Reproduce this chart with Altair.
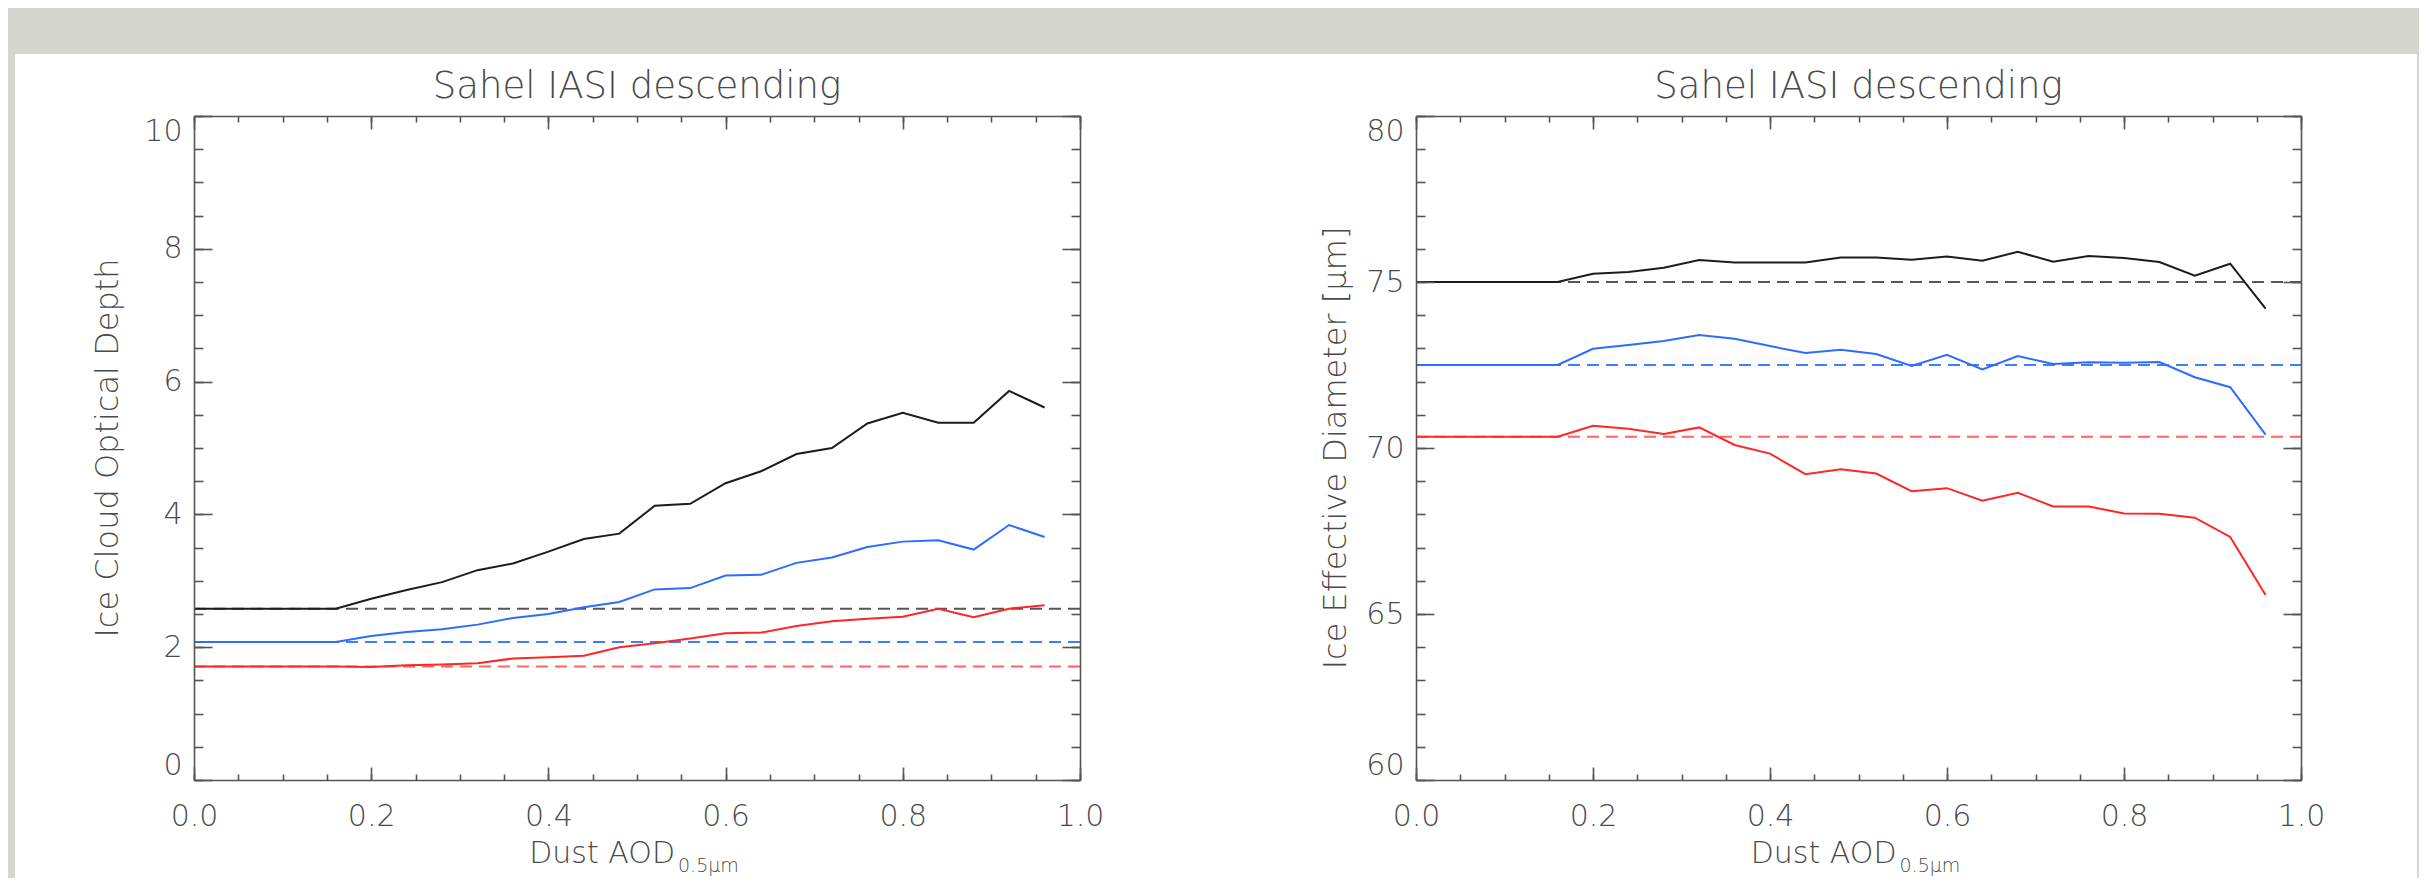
import altair as alt
import pandas as pd

# ---------------- data ----------------
aod = [0.00, 0.04, 0.08, 0.12, 0.16, 0.20, 0.24, 0.28, 0.32, 0.36, 0.40, 0.44, 0.48,
       0.52, 0.56, 0.60, 0.64, 0.68, 0.72, 0.76, 0.80, 0.84, 0.88, 0.92, 0.96]
series = ["black", "blue", "red"]

cod_black = [2.58, 2.58, 2.58, 2.58, 2.58, 2.73, 2.86, 2.98, 3.16, 3.26, 3.44, 3.63, 3.71,
             4.13, 4.16, 4.47, 4.65, 4.91, 5.00, 5.37, 5.53, 5.38, 5.38, 5.86, 5.61]
cod_blue = [2.08, 2.08, 2.08, 2.08, 2.08, 2.17, 2.23, 2.27, 2.34, 2.44, 2.50, 2.60, 2.68,
            2.87, 2.89, 3.08, 3.09, 3.27, 3.35, 3.51, 3.59, 3.61, 3.47, 3.84, 3.66]
cod_red = [1.71, 1.71, 1.71, 1.71, 1.71, 1.70, 1.73, 1.74, 1.76, 1.83, 1.85, 1.87, 2.00,
           2.06, 2.13, 2.21, 2.22, 2.32, 2.39, 2.43, 2.46, 2.58, 2.45, 2.58, 2.63]
cod_means = [2.58, 2.08, 1.71]

dei_black = [75.00, 75.00, 75.00, 75.00, 75.00, 75.25, 75.30, 75.43, 75.66, 75.59, 75.59, 75.59, 75.74,
             75.74, 75.67, 75.77, 75.64, 75.91, 75.61, 75.78, 75.72, 75.60, 75.19, 75.55, 74.20]
dei_blue = [72.50, 72.50, 72.50, 72.50, 72.50, 72.99, 73.10, 73.22, 73.40, 73.29, 73.07, 72.86, 72.96,
            72.83, 72.47, 72.81, 72.37, 72.77, 72.53, 72.58, 72.57, 72.59, 72.13, 71.83, 70.40]
dei_red = [70.34, 70.34, 70.34, 70.34, 70.34, 70.67, 70.58, 70.42, 70.62, 70.09, 69.83, 69.21, 69.36,
           69.23, 68.70, 68.79, 68.41, 68.65, 68.24, 68.24, 68.03, 68.02, 67.90, 67.32, 65.57]
dei_means = [75.00, 72.50, 70.34]

x_major = [0.0, 0.2, 0.4, 0.6, 0.8, 1.0]
x_minor = [0.0, 0.05, 0.1, 0.15, 0.2, 0.25, 0.3, 0.35, 0.4, 0.45, 0.5, 0.55, 0.6, 0.65,
           0.7, 0.75, 0.8, 0.85, 0.9, 0.95, 1.0]
cod_major = [0, 2, 4, 6, 8, 10]
cod_minor = [0, 0.5, 1, 1.5, 2, 2.5, 3, 3.5, 4, 4.5, 5, 5.5, 6, 6.5, 7, 7.5, 8, 8.5, 9, 9.5, 10]
dei_major = [60, 65, 70, 75, 80]
dei_minor = [60, 61, 62, 63, 64, 65, 66, 67, 68, 69, 70, 71, 72, 73, 74, 75, 76, 77, 78, 79, 80]

panel_title = "Sahel IASI descending"
x_title = "Dust AOD"
x_sub = "0.5μm"
cod_title = "Ice Cloud Optical Depth"
dei_title = "Ice Effective Diameter [μm]"

# ---------------- style ----------------
solid_colors = {"black": "#1c1c1c", "blue": "#2d6cff", "red": "#ff2626"}
dash_colors = {"black": "#555555", "blue": "#3f7cff", "red": "#ff6464"}
FONT = "DejaVu Sans"
FW = 200
TXT = "#4a4a4a"
BG = "#d6d6d0"

W1, W2, H = 886, 885, 664


def one_row(v):
    return pd.DataFrame({"t": [v]})


def panel(solid_lists, means, ydom, ymaj, ymin_, ytitle, W, ytitle_x, card=False):
    rows = []
    for s, vals in zip(series, solid_lists):
        for a, v in zip(aod, vals):
            rows.append({"aod": a, "val": v, "series": s, "c": solid_colors[s]})
    solid = pd.DataFrame(rows)
    mrows = []
    for s, m in zip(series, means):
        for a in (0.0, 1.0):
            mrows.append({"aod": a, "val": m, "series": s, "c": dash_colors[s]})
    dashed = pd.DataFrame(mrows)

    xs = alt.Scale(domain=[0, 1], nice=False, zero=False)
    ys = alt.Scale(domain=ydom, nice=False, zero=False)

    def X(axis):
        return alt.X("aod:Q", scale=xs, axis=axis)

    def Y(axis):
        return alt.Y("val:Q", scale=ys, axis=axis)

    common = dict(zindex=2, title=None)
    # axes: label axes + inward tick axes (IDL style box)
    x_lab = alt.Axis(orient="bottom", values=x_major, format=".1f", ticks=False, tickSize=0,
                     domain=True, labelPadding=21, labelFlush=False, **common)
    y_lab = alt.Axis(orient="left", values=ymaj, format="d", ticks=False, tickSize=0,
                     domain=True, labelPadding=12, labelFlush=True, **common)
    x_bmaj = alt.Axis(orient="top", offset=-H, values=x_major, labels=False, domain=False,
                      tickSize=13, **common)
    x_bmin = alt.Axis(orient="top", offset=-H, values=x_minor, labels=False, domain=False,
                      tickSize=6, **common)
    x_tmaj = alt.Axis(orient="bottom", offset=-H, values=x_major, labels=False, domain=True,
                      tickSize=13, **common)
    x_tmin = alt.Axis(orient="bottom", offset=-H, values=x_minor, labels=False, domain=False,
                      tickSize=6, **common)
    y_lmaj = alt.Axis(orient="right", offset=-W, values=ymaj, labels=False, domain=False,
                      tickSize=18, **common)
    y_lmin = alt.Axis(orient="right", offset=-W, values=ymin_, labels=False, domain=False,
                      tickSize=9, **common)
    y_rmaj = alt.Axis(orient="left", offset=-W, values=ymaj, labels=False, domain=True,
                      tickSize=18, **common)
    y_rmin = alt.Axis(orient="left", offset=-W, values=ymin_, labels=False, domain=False,
                      tickSize=9, **common)

    layers = []
    if card:
        layers.append(alt.Chart(one_row("bg")).mark_rect(color=BG).encode(
            x=alt.value(-186), x2=alt.value(2225), y=alt.value(-108), y2=alt.value(762)))
        layers.append(alt.Chart(one_row("card")).mark_rect(color="white").encode(
            x=alt.value(-179), x2=alt.value(2223), y=alt.value(-62), y2=alt.value(762)))

    dash_layer = alt.Chart(dashed).mark_line(strokeWidth=2, strokeDash=[12, 7]).encode(
        x=X(x_bmaj), y=Y(y_lmaj), color=alt.Color("c:N", scale=None), detail="series:N")
    solid_layer = alt.Chart(solid).mark_line(strokeWidth=2).encode(
        x=X(x_lab), y=Y(y_lab), color=alt.Color("c:N", scale=None), detail="series:N")
    d1 = alt.Chart(solid).mark_point(opacity=0).encode(x=X(x_bmin), y=Y(y_lmin))
    d2 = alt.Chart(solid).mark_point(opacity=0).encode(x=X(x_tmaj), y=Y(y_rmaj))
    d3 = alt.Chart(solid).mark_point(opacity=0).encode(x=X(x_tmin), y=Y(y_rmin))

    txt = dict(font=FONT, fontWeight=FW, color=TXT)
    title = alt.Chart(one_row(panel_title)).mark_text(
        align="center", baseline="alphabetic", fontSize=37, **txt).encode(
        text="t:N", x=alt.value(W / 2), y=alt.value(-18))
    xt = alt.Chart(one_row(x_title)).mark_text(
        align="right", baseline="alphabetic", fontSize=30, **txt).encode(
        text="t:N", x=alt.value(W / 2 + 38), y=alt.value(747))
    xs_ = alt.Chart(one_row(x_sub)).mark_text(
        align="left", baseline="alphabetic", fontSize=19, **txt).encode(
        text="t:N", x=alt.value(W / 2 + 41), y=alt.value(756))
    yt = alt.Chart(one_row(ytitle)).mark_text(
        align="center", baseline="alphabetic", fontSize=32, angle=270, **txt).encode(
        text="t:N", x=alt.value(ytitle_x), y=alt.value(H / 2))

    layers += [dash_layer, solid_layer, d1, d2, d3, title, xt, xs_, yt]
    return alt.layer(*layers).properties(width=W, height=H).resolve_axis(
        x="independent", y="independent")


left = panel([cod_black, cod_blue, cod_red], cod_means, [0, 10], cod_major, cod_minor,
             cod_title, W1, -76, card=True)
right = panel([dei_black, dei_blue, dei_red], dei_means, [60, 80], dei_major, dei_minor,
              dei_title, W2, -70)

chart = alt.hconcat(left, right, spacing=336, bounds="flush").properties(
    padding=0, background=BG
).configure_view(strokeWidth=0).configure_axis(
    grid=False, domainColor="#555555", domainWidth=1.6, tickColor="#555555",
    tickWidth=1.6, labelFont=FONT, labelFontSize=30, labelFontWeight=FW, labelColor=TXT
)

chart.save("out.html", embed_options={"renderer": "svg", "actions": False})
